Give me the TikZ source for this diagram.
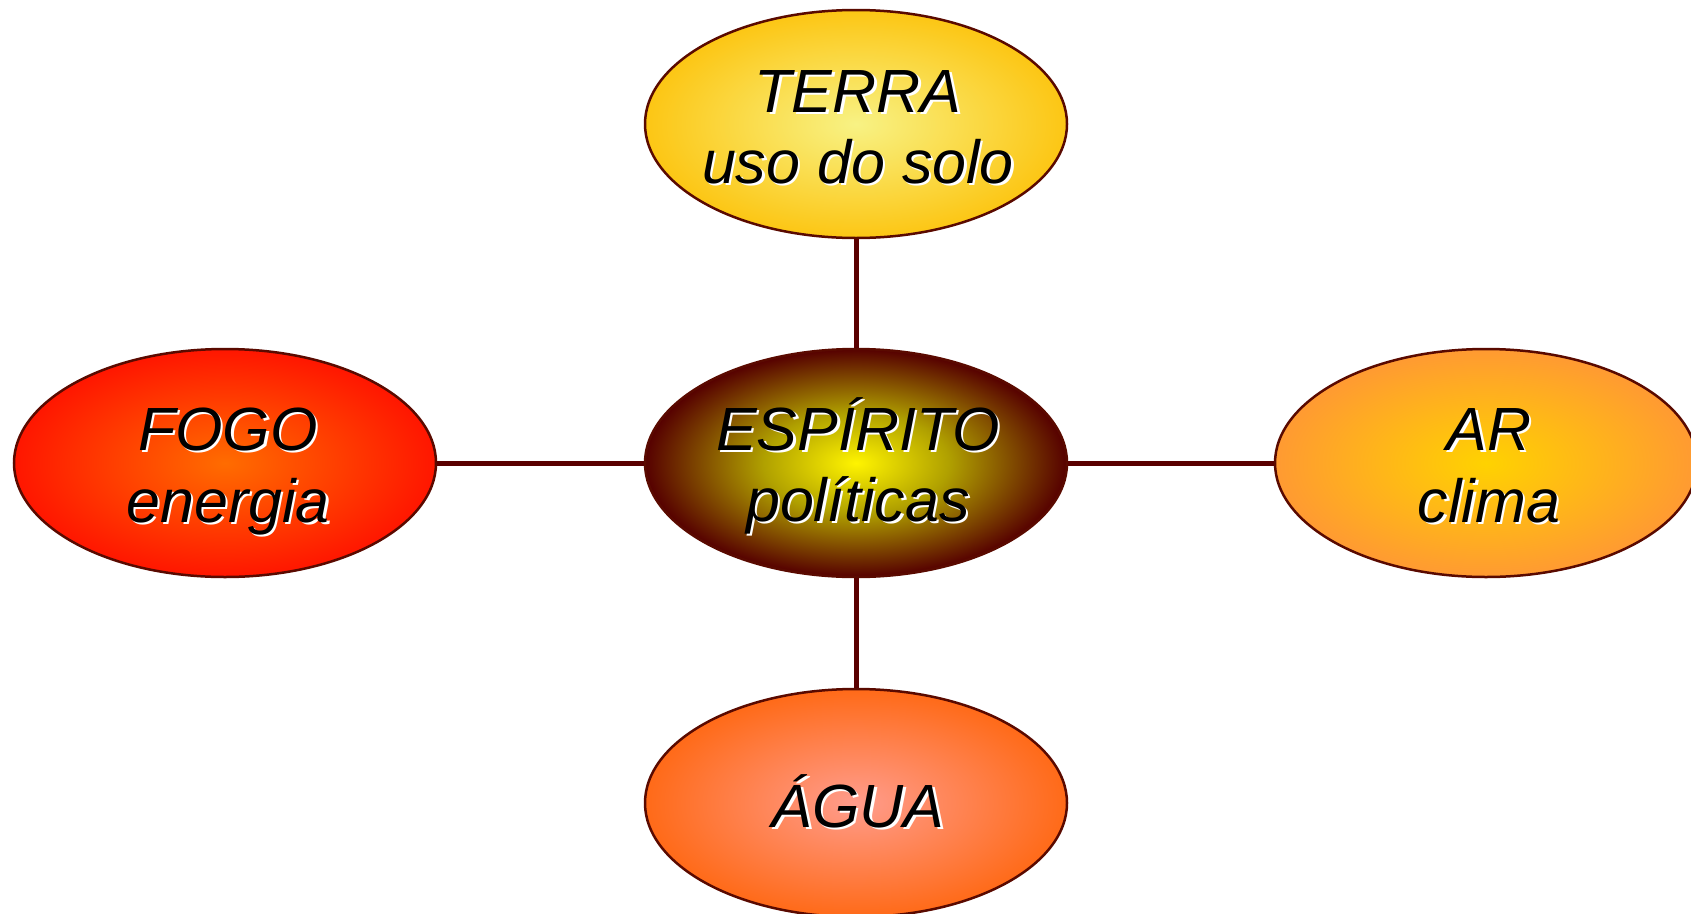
\documentclass[tikz,border=0pt]{standalone}
\usepackage{fontspec}
\setmainfont{Liberation Sans}
\usetikzlibrary{shapes.geometric}
\definecolor{linec}{HTML}{5A0000}
\definecolor{borderc}{HTML}{5A0A00}
\definecolor{terraIn}{HTML}{F8F284}
\definecolor{terraOut}{HTML}{FCC614}
\definecolor{espIn}{HTML}{FFF400}
\definecolor{espMid}{HTML}{B0A000}
\definecolor{espOut}{HTML}{560000}
\definecolor{fogoIn}{HTML}{FF6C00}
\definecolor{fogoOut}{HTML}{FF1600}
\definecolor{arIn}{HTML}{FFD200}
\definecolor{arOut}{HTML}{FF9A32}
\definecolor{aguaIn}{HTML}{FF9C8C}
\definecolor{aguaOut}{HTML}{FF6A18}
\pgfdeclareradialshading{espshade}{\pgfpointorigin}{color(0bp)=(espIn); color(11bp)=(espMid); color(25bp)=(espOut); color(50bp)=(espOut)}
\tikzset{
  blob/.style={ellipse, draw=borderc, line width=2.5pt, minimum width=422pt,
    minimum height=228pt, inner sep=0pt, shading=radial},
  conn/.style={draw=linec, line width=5pt},
  txt/.style={font=\fontsize{61}{71}\selectfont\itshape, anchor=base, inner sep=0pt, text=black},
  shadowtxt/.style={txt, text=white, xshift=2.5pt, yshift=-2.5pt},
}
\newcommand\shtxt[3]{%
  \node[shadowtxt] at (#2) {#3};
  \node[txt] (#1) at (#2) {#3};
}
\begin{document}
\begin{tikzpicture}[x=1pt,y=-1pt]
\useasboundingbox (0,0) rectangle (1691,913);
\clip (0,0) rectangle (1691,913);
\node[blob, inner color=terraIn, outer color=terraOut] (terra) at (856,124) {};
\node[blob, shading=espshade] (esp) at (856,463) {};
\node[blob, inner color=fogoIn, outer color=fogoOut] (fogo) at (225,463) {};
\node[blob, inner color=arIn, outer color=arOut] (ar) at (1486,463) {};
\node[blob, inner color=aguaIn, outer color=aguaOut] (agua) at (856,803) {};
\draw[conn] (terra) -- (esp);
\draw[conn] (esp) -- (agua);
\draw[conn] (fogo) -- (esp);
\draw[conn] (esp) -- (ar);
\shtxt{t1}{858,112}{TERRA}
\shtxt{t2}{858,183}{uso do solo}
\shtxt{e1}{858,450}{ESPÍRITO}
\shtxt{e2}{858,521}{políticas}
\shtxt{f1}{228,450}{FOGO}
\shtxt{f2}{228,522}{energia}
\shtxt{a1}{1489,450}{AR}
\shtxt{a2}{1489,522}{clima}
\shtxt{g1}{858,827}{ÁGUA}
\end{tikzpicture}
\end{document}
